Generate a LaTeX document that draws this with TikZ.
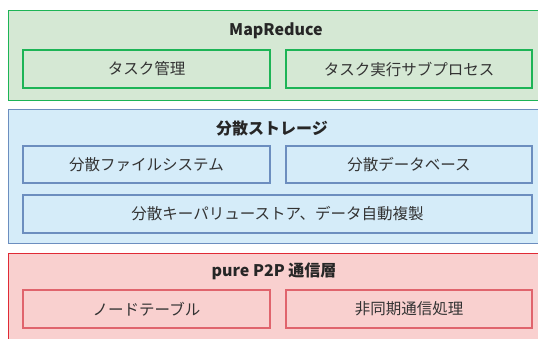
\documentclass[tikz,border=0pt]{standalone}
\usepackage{fontspec}
\setmainfont{Noto Sans CJK JP}
\begin{document}
\begin{tikzpicture}[x=1pt,y=-1pt,
  box/.style={rectangle,inner sep=0pt,line width=1.4pt,text=black!80,font=\fontsize{15.5}{18}\selectfont},
  gbox/.style={box,draw=gline,fill=gfill},
  bbox/.style={box,draw=bline,fill=bfill},
  rbox/.style={box,draw=rinner,fill=rfill},
  ttl/.style={inner sep=0pt,text=black!85,font=\fontsize{16}{19}\selectfont\bfseries}]
\definecolor{gline}{HTML}{1DB456}
\definecolor{gfill}{HTML}{D5E8D4}
\definecolor{bline}{HTML}{6C8EBF}
\definecolor{bfill}{HTML}{D5ECF9}
\definecolor{rline}{HTML}{E02A35}
\definecolor{rinner}{HTML}{E0646D}
\definecolor{rfill}{HTML}{F9D0CF}
\useasboundingbox (0,0) rectangle (538,338);
\clip (0,0) rectangle (538,338);
% MapReduce layer
\node[gbox,anchor=north west,minimum width=540pt,minimum height=90pt] (mr) at (8,10) {};
\node[ttl] (mrt) at (276,31) {MapReduce};
\node[gbox,minimum width=247pt,minimum height=38pt] (task) at (146.5,69) {タスク管理};
\node[gbox,minimum width=246pt,minimum height=38pt] (sub) at (409,69) {タスク実行サブプロセス};
% storage layer
\node[bbox,anchor=north west,minimum width=540pt,minimum height=134pt] (st) at (8,109) {};
\node[ttl] (stt) at (272,128) {分散ストレージ};
\node[bbox,minimum width=247pt,minimum height=37pt] (fs) at (146.5,164.5) {分散ファイルシステム};
\node[bbox,minimum width=246pt,minimum height=37pt] (db) at (409,164.5) {分散データベース};
\node[bbox,minimum width=509pt,minimum height=38pt] (kv) at (277.5,214) {分散キーパリューストア、データ自動複製};
% P2P layer
\node[rbox,draw=rline,anchor=north west,minimum width=540pt,minimum height=100pt] (p2p) at (8,253) {};
\node[ttl] (p2pt) at (274,271) {pure P2P 通信層};
\node[rbox,minimum width=247pt,minimum height=38pt] (nt) at (146.5,309) {ノードテーブル};
\node[rbox,minimum width=246pt,minimum height=38pt] (async) at (409,309) {非同期通信処理};
\end{tikzpicture}
\end{document}
